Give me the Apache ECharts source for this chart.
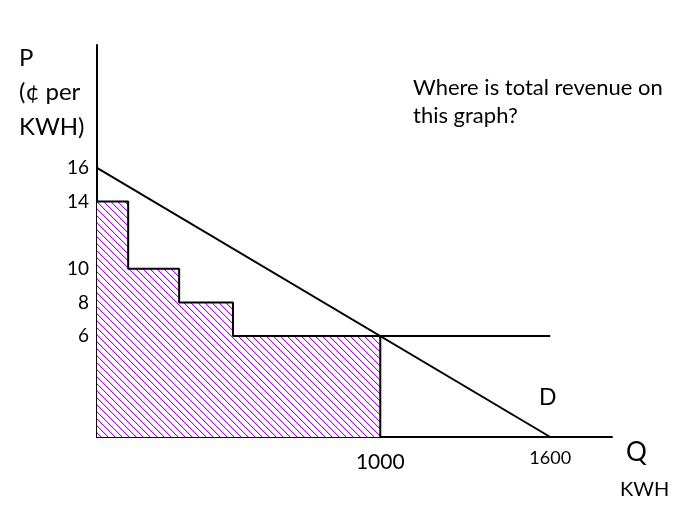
<!DOCTYPE html>
<html>
<head>
<meta charset="utf-8">
<script src="https://cdn.jsdelivr.net/npm/echarts@6/dist/echarts.min.js"></script>
<style>html,body{margin:0;padding:0;background:#fff}#c{width:689px;height:521px}</style>
</head>
<body>
<div id="c"></div>
<script>
// Block-rate steps: quantity boundaries (KWH) and price of each block (¢ per KWH)
var stepQ = [0, 110, 290, 480, 1000];
var stepP = [14, 10, 8, 6];
// Demand curve endpoints
var demandQ = [0, 1600];
var demandP = [16, 0];
// Marginal price line continuing to the right
var priceQ = [480, 1600];
var priceP = [6, 6];
// Tick labels shown
var yTicks = [6, 8, 10, 14, 16];
var xTicks = [1000, 1600];

var FONT = 'Lato, "Open Sans", sans-serif';

// hatch pattern (diagonal "\" lines)
var T = 7;
var tile = document.createElement('canvas');
tile.width = T; tile.height = T;
var g = tile.getContext('2d');
g.fillStyle = '#ffffff'; g.fillRect(0, 0, T, T);
for (var k = 0; k < T; k++) {
  g.fillStyle = '#b000ff';
  g.fillRect(k, k, 1, 1);
  g.fillStyle = 'rgba(176,0,255,0.25)';
  g.fillRect((k + 1) % T, k, 1, 1);
}

var stepData = [];
for (var i = 0; i < stepP.length; i++) {
  stepData.push([stepQ[i], stepP[i]]);
  stepData.push([stepQ[i + 1], stepP[i]]);
}
stepData.push([stepQ[stepQ.length - 1], 0]);

var demandData = demandQ.map(function (q, i) { return [q, demandP[i]]; });
var priceData = priceQ.map(function (q, i) { return [q, priceP[i]]; });

var chart = echarts.init(document.getElementById('c'));
chart.setOption({
  animation: false,
  backgroundColor: '#fff',
  grid: { left: 97, top: 45, width: 515, height: 392, containLabel: false },
  xAxis: {
    type: 'value', min: 0, max: 1818, interval: 200,
    axisLine: { show: true, onZero: false, lineStyle: { color: '#000', width: 2 } },
    axisTick: { show: false },
    splitLine: { show: false },
    axisLabel: {
      margin: 12, color: '#000', fontFamily: FONT,
      formatter: function (v) {
        if (v === xTicks[0]) return '{a|' + v + '}';
        if (v === xTicks[1]) return '{b|' + v + '}';
        return '';
      },
      rich: {
        a: { fontSize: 21, fontFamily: FONT, color: '#000', padding: [3, 0, 0, 0] },
        b: { fontSize: 18, fontFamily: FONT, color: '#000' }
      }
    }
  },
  yAxis: {
    type: 'value', min: 0, max: 23.3, interval: 2,
    axisLine: { show: true, onZero: false, lineStyle: { color: '#000', width: 2 } },
    axisTick: { show: false },
    splitLine: { show: false },
    axisLabel: {
      margin: 8, color: '#000', fontSize: 19, fontFamily: FONT,
      formatter: function (v) { return yTicks.indexOf(v) >= 0 ? String(v) : ''; }
    }
  },
  series: [
    {
      type: 'line', data: stepData, symbol: 'none', z: 2,
      lineStyle: { color: '#000', width: 2 },
      areaStyle: { color: { image: tile, repeat: 'repeat' }, opacity: 1 }
    },
    {
      type: 'line', data: priceData, symbol: 'none', z: 3,
      lineStyle: { color: '#000', width: 2 }
    },
    {
      type: 'line', data: demandData, symbol: 'none', z: 4,
      lineStyle: { color: '#000', width: 2 }
    }
  ],
  graphic: [
    { type: 'text', left: 19, top: 41, style: { text: 'P\n(¢ per\nKWH)', fontSize: 24, lineHeight: 34.5, fontFamily: FONT, fill: '#000' } },
    { type: 'text', left: 413, top: 74, style: { text: 'Where is total revenue on\nthis graph?', fontSize: 22, lineHeight: 28, fontFamily: FONT, fill: '#000' } },
    { type: 'text', left: 539, top: 386, style: { text: 'D', fontSize: 23, fontFamily: FONT, fill: '#000' } },
    { type: 'text', left: 626, top: 440, style: { text: 'Q', fontSize: 26, fontFamily: FONT, fill: '#000' } },
    { type: 'text', left: 620, top: 480, style: { text: 'KWH', fontSize: 20, fontFamily: FONT, fill: '#000' } }
  ]
});
</script>
</body>
</html>
